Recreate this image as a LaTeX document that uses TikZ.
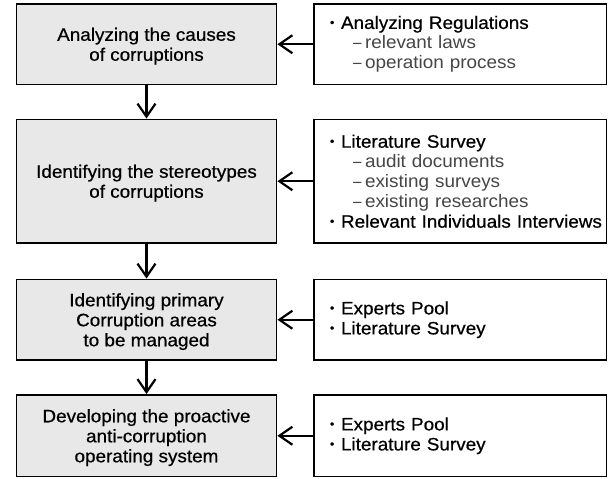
\documentclass[tikz,border=0pt]{standalone}
\usepackage{fontspec}
\usepackage{graphicx}
\setmainfont[FakeStretch=1.05,FakeBold=0.6]{Liberation Sans}
\newfontfamily\subfam[FakeStretch=1.05]{Liberation Sans}
\usetikzlibrary{arrows.meta}
\definecolor{boxgray}{RGB}{232,232,232}
\definecolor{subgray}{RGB}{70,70,70}
\newcommand\mfont{\fontsize{18}{20}\selectfont}
\newcommand\bitem[1]{\mbox{\makebox[11pt][l]{\raisebox{2.5pt}{\scalebox{.65}{•}}}#1}}
\newcommand\sitem[1]{\mbox{\subfam\color{subgray}\hspace*{23pt}\makebox[12pt][l]{\scalebox{.8}[1]{–}}#1}}
\begin{document}
\begin{tikzpicture}[x=1pt,y=-1pt,
  leftbox/.style={draw, line width=1.9pt, fill=boxgray, minimum width=260pt,
    inner sep=0pt, text depth=0pt, align=center, font=\mfont},
  rightbox/.style={draw, line width=1.9pt, fill=white, minimum width=292.5pt,
    inner xsep=16pt, inner ysep=0pt, text width=260.5pt, align=left, font=\mfont},
  arr/.style={line width=2.2pt, -{Straight Barb[length=13pt,width=18pt]}}]
\useasboundingbox[fill=white] (0,0) rectangle (613,479);

\node[leftbox, minimum height=80.5pt] (L1) at (146.5,44.25) {Analyzing the causes\\of corruptions};
\node[leftbox, minimum height=123.5pt] (L2) at (146.5,181.25) {Identifying the stereotypes\\of corruptions};
\node[leftbox, minimum height=80.5pt] (L3) at (146.5,319.75) {Identifying primary\\Corruption areas\\to be managed};
\node[leftbox, minimum height=81.5pt] (L4) at (146.5,435.75) {Developing the proactive\\anti-corruption\\operating system};

\node[rightbox, minimum height=80.5pt] (R1) at (460.25,44.25)
  {\bitem{Analyzing Regulations}\\\sitem{relevant laws}\\\sitem{operation process}};
\node[rightbox, minimum height=123.5pt] (R2) at (460.25,181.25)
  {\bitem{Literature Survey}\\\sitem{audit documents}\\\sitem{existing surveys}\\\sitem{existing researches}\\\bitem{Relevant Individuals Interviews}};
\node[rightbox, minimum height=80.5pt] (R3) at (460.25,319.75)
  {\bitem{Experts Pool}\\\bitem{Literature Survey}};
\node[rightbox, minimum height=81.5pt] (R4) at (460.25,435.75)
  {\bitem{Experts Pool}\\\bitem{Literature Survey}};

\draw[arr] (R1.west) -- (L1.east);
\draw[arr] (R2.west) -- (L2.east);
\draw[arr] (R3.west) -- (L3.east);
\draw[arr] (R4.west) -- (L4.east);
\draw[arr] (L1.south) -- (L2.north);
\draw[arr] (L2.south) -- (L3.north);
\draw[arr] (L3.south) -- (L4.north);
\end{tikzpicture}
\end{document}
